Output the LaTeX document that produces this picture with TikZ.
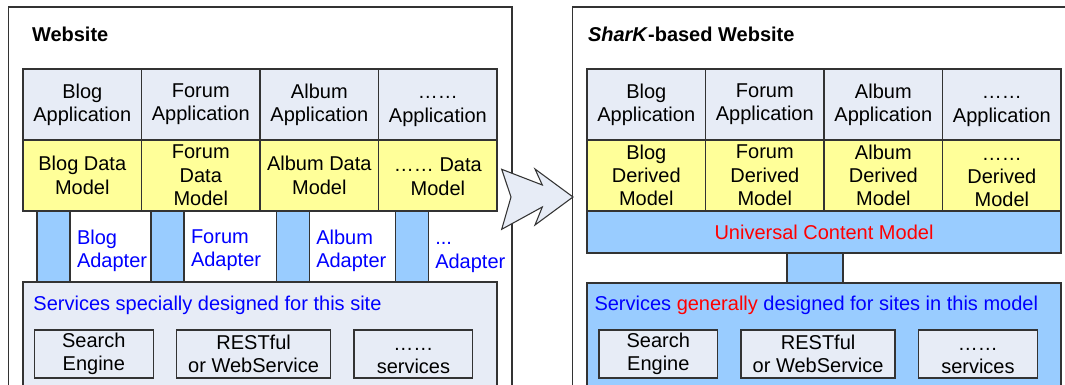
\documentclass[tikz,border=0pt]{standalone}
\usepackage{fontspec}
\setmainfont{Liberation Sans}
\usepackage{tikz}
\usetikzlibrary{positioning}
\definecolor{appfill}{RGB}{231,236,246}
\definecolor{datafill}{RGB}{255,255,153}
\definecolor{adptfill}{RGB}{153,204,255}
\definecolor{edgegray}{RGB}{51,51,51}
\definecolor{txtblue}{RGB}{0,0,255}
\definecolor{txtred}{RGB}{255,0,0}
\newcommand{\moredots}{\strut……}

\begin{document}
\begin{tikzpicture}[
x=0.75pt, y=-0.75pt,
node distance=0pt,
every node/.style={font=\fontsize{15}{17.5}\selectfont, inner sep=0pt, outer sep=0pt},
frame/.style={draw=black!80, line width=0.8pt},
title/.style={anchor=west, font=\fontsize{15}{17.5}\selectfont\bfseries},
app/.style={draw=edgegray, line width=1pt, fill=appfill, minimum width=88.9pt, minimum height=53.25pt, align=center},
data/.style={app, fill=datafill},
adpt/.style={draw=edgegray, line width=1pt, fill=adptfill, minimum width=24.75pt, minimum height=53.25pt},
adptlabel/.style={align=left, text=txtblue, yshift=-3pt},
svc/.style={draw=edgegray, line width=1pt, anchor=north west, minimum width=355.5pt, minimum height=97.5pt},
subbox/.style={draw=edgegray, line width=1pt, fill=appfill, minimum width=89pt, minimum height=36pt, align=center},
wide/.style={minimum width=115.5pt},
bigarrow/.style={draw=edgegray, line width=0.8pt, fill=appfill, line join=miter}
]
\clip (0,0) rectangle (1065,385);

% outer frames
\draw[frame] (8.5,7) rectangle (512,400);
\draw[frame] (572.5,7) rectangle (1090,400);
\node[title] (titleL) at (32,34) {Website};
\node[title] (titleR) at (588,34) {\textit{SharK}-based Website};

% left: applications and data models
\node[app, anchor=north west] (appL1) at (23,69) {Blog\\Application};
\node[app, right=of appL1] (appL2) {Forum\\Application};
\node[app, right=of appL2] (appL3) {Album\\Application};
\node[app, right=of appL3] (appL4) {\moredots\\Application};
\node[data, below=of appL1] (dataL1) {Blog Data\\Model};
\node[data, below=of appL2] (dataL2) {Forum\\Data\\Model};
\node[data, below=of appL3] (dataL3) {Album Data\\Model};
\node[data, below=of appL4] (dataL4) {\moredots{} Data\\Model};

% left: adapters
\node[adpt] (barL1) at (53.5,246.5) {};
\node[adpt] (barL2) at (167.5,246.5) {};
\node[adpt] (barL3) at (292.75,246.5) {};
\node[adpt] (barL4) at (411.75,246.5) {};
\node[adptlabel, right=5.25pt of barL1] (adptL1) {Blog\\Adapter};
\node[adptlabel, right=5.25pt of barL2] (adptL2) {Forum\\Adapter};
\node[adptlabel, right=5.25pt of barL3] (adptL3) {Album\\Adapter};
\node[adptlabel, right=5.25pt of barL4] (adptL4) {\strut...\\Adapter};

% left: services
\node[svc, fill=appfill] (svcL) at (23,282) {};
\node[anchor=west, text=txtblue] (svcLtext) at (33.5,305) {Services specially designed for this site};
\node[subbox, anchor=north west] (searchL) at (34.5,330) {Search\\Engine};
\node[subbox, wide, right=17.6pt of searchL] (restL) {RESTful\\or WebService};
\node[subbox, right=17.6pt of restL] (moreL) {\moredots\\services};

% arrow between the two sites
\draw[bigarrow] (501.7,169.3) -- (542.3,185) -- (535,169) -- (573,197)
  -- (535,225) -- (542.3,207) -- (501.7,229.3) -- (511,197) -- cycle;

% right: applications and derived models
\node[app, anchor=north west] (appR1) at (587,69) {Blog\\Application};
\node[app, right=of appR1] (appR2) {Forum\\Application};
\node[app, right=of appR2] (appR3) {Album\\Application};
\node[app, right=of appR3] (appR4) {\moredots\\Application};
\node[data, below=of appR1] (dataR1) {Blog\\Derived\\Model};
\node[data, below=of appR2] (dataR2) {Forum\\Derived\\Model};
\node[data, below=of appR3] (dataR3) {Album\\Derived\\Model};
\node[data, below=of appR4] (dataR4) {\moredots\\Derived\\Model};

% right: universal model
\node[draw=edgegray, line width=1pt, fill=adptfill, anchor=north west, minimum width=355.5pt, minimum height=31.5pt,
  text=txtred] (ucm) at (587,211) {Universal Content Model};
\node[draw=edgegray, line width=1pt, fill=adptfill, minimum width=42pt, minimum height=22.5pt] (link) at (815,268) {};

% right: services
\node[svc, fill=adptfill] (svcR) at (587,283) {};
\node[anchor=west, text=txtblue] (svcRtext) at (594.5,305) {Services \textcolor{txtred}{generally} designed for sites in this model};
\node[subbox, anchor=north west] (searchR) at (599,330) {Search\\Engine};
\node[subbox, wide, right=17.6pt of searchR] (restR) {RESTful\\or WebService};
\node[subbox, right=17.6pt of restR] (moreR) {\moredots\\services};
\end{tikzpicture}
\end{document}
